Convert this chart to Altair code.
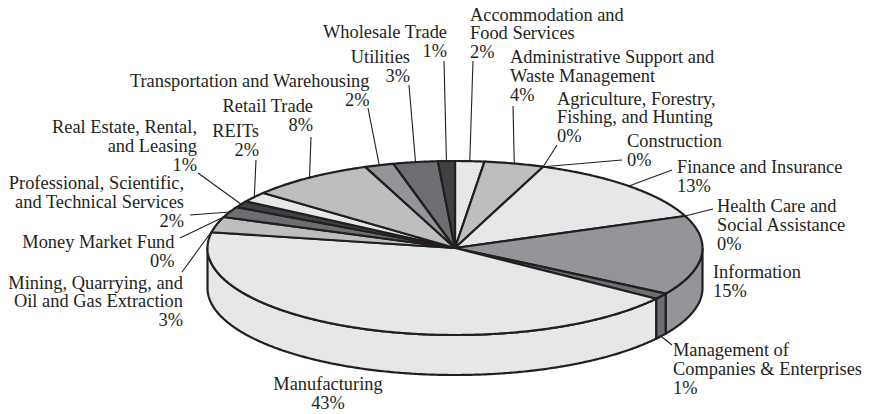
import math
import altair as alt
import pandas as pd

# ---- data ----
categories = ["Accommodation and Food Services", "Administrative Support and Waste Management",
              "Agriculture, Forestry, Fishing, and Hunting", "Construction", "Finance and Insurance",
              "Health Care and Social Assistance", "Information", "Management of Companies & Enterprises",
              "Manufacturing", "Mining, Quarrying, and Oil and Gas Extraction", "Money Market Fund",
              "Professional, Scientific, and Technical Services", "Real Estate, Rental, and Leasing",
              "REITs", "Retail Trade", "Transportation and Warehousing", "Utilities", "Wholesale Trade"]
shares = [1.9, 3.9, 0, 0, 13.2, 0, 14.8, 1.1, 43.0, 2.9, 0, 2.0, 1.2, 1.9, 8.2, 1.9, 2.9, 1.1]
percent_labels = ["2%", "4%", "0%", "0%", "13%", "0%", "15%", "1%", "43%", "3%", "0%", "2%", "1%", "2%", "8%", "2%", "3%", "1%"]

# ---- styles ----
L, M1, M2, D1, D2 = "#e6e7e8", "#bcbec0", "#939598", "#6d6e71", "#414042"
slice_colors = [L, M1, L, M1, L, M2, M2, D1, L, M1, M2, D1, D2, L, M1, M2, D1, D2]
INK = "#231f20"

# ---- layout: ellipse in page pixels ----
CX, CY, RX, RY, DEPTH = 455.0, 248.0, 247.5, 87.0, 40.0
FONT, FS, LH = "Liberation Serif", 18.4, 18.8

# index -> (label lines, align, x, first baseline, leader outer end or None, attach to bottom rim)
layout = {
    0: (["Accommodation and", "Food Services"], "left", 470, 20.5, (473, 61), False),
    1: (["Administrative Support and", "Waste Management"], "left", 510, 63, (513, 106), False),
    2: (["Agriculture, Forestry,", "Fishing, and Hunting"], "left", 557, 104.5, (557, 145), False),
    3: (["Construction"], "left", 627, 147, (622, 160), False),
    4: (["Finance and Insurance"], "left", 677, 173, (672, 170), False),
    5: (["Health Care and", "Social Assistance"], "left", 717, 212, (713, 209), False),
    6: (["Information"], "left", 713, 278, None, False),
    7: (["Management of", "Companies & Enterprises"], "left", 673, 356, (672, 345), True),
    8: (["Manufacturing"], "center", 328, 390, None, False),
    9: (["Mining, Quarrying, and", "Oil and Gas Extraction"], "right", 183, 288.5, (182, 272), False),
    10: (["Money Market Fund"], "right", 174.5, 248, (180, 238), False),
    11: (["Professional, Scientific,", "and Technical Services"], "right", 184, 189, (190, 215), False),
    12: (["Real Estate, Rental,", "and Leasing"], "right", 197, 133, (198, 173), False),
    13: (["REITs"], "right", 259, 137, (256, 160), False),
    14: (["Retail Trade"], "right", 313, 112, (311, 137), False),
    15: (["Transportation and Warehousing"], "right", 369.5, 87, (368, 108), False),
    16: (["Utilities"], "right", 410, 63, (409, 85), False),
    17: (["Wholesale Trade"], "right", 447, 38, (444, 61), False),
}


def rim(t, dz=0.0):
    a = math.radians(t)
    return CX + RX * math.sin(a), CY - RY * math.cos(a) + dz


top_rows, side_rows, leader_rows, text_rows = [], [], [], []
cum = 0.0
for i, (cat, v) in enumerate(zip(categories, shares)):
    t0, t1 = cum * 3.6, (cum + v) * 3.6
    mid = (t0 + t1) / 2
    cum += v
    if v > 0:
        pts = [(CX, CY)]
        n = max(2, int((t1 - t0) * 2))
        pts += [rim(t0 + (t1 - t0) * k / n) for k in range(n + 1)]
        pts.append((CX, CY))
        for o, (x, y) in enumerate(pts):
            top_rows.append(dict(s=i, o=o, x=x, y=y, c=slice_colors[i]))
        a, b = max(t0, 90.0), min(t1, 270.0)
        if b > a:
            n = max(2, int((b - a) * 2))
            arc = [a + (b - a) * k / n for k in range(n + 1)]
            pts = [rim(t) for t in arc] + [rim(t, DEPTH) for t in reversed(arc)]
            pts.append(pts[0])
            for o, (x, y) in enumerate(pts):
                side_rows.append(dict(s=i, o=o, x=x, y=y, c=slice_colors[i]))
    lines, align, lx, ly, outer, bottom = layout[i]
    for k, line in enumerate(lines + [percent_labels[i]]):
        text_rows.append(dict(t=line, x=lx, y=ly + k * LH, a=align))
    if outer:
        ix, iy = rim(mid, DEPTH if bottom else 0.0)
        leader_rows.append(dict(x=ix, y=iy, x2=outer[0], y2=outer[1]))

X = alt.X("x:Q", scale=alt.Scale(domain=[8, 865], nice=False, zero=False), axis=None)
Y = alt.Y("y:Q", scale=alt.Scale(domain=[414, 8], nice=False, zero=False), axis=None)


def polys(rows):
    return alt.Chart(pd.DataFrame(rows)).mark_line(
        stroke=INK, strokeWidth=2.2, strokeJoin="round", interpolate="linear", clip=False
    ).encode(x=X, y=Y, order="o:Q", detail="s:N", fill=alt.Fill("c:N", scale=None, legend=None))


leaders = alt.Chart(pd.DataFrame(leader_rows)).mark_rule(color=INK, strokeWidth=1.1).encode(
    x=X, y=Y, x2="x2:Q", y2="y2:Q")

texts = []
for al in ["left", "right", "center"]:
    df = pd.DataFrame([r for r in text_rows if r["a"] == al])
    texts.append(alt.Chart(df).mark_text(font=FONT, fontSize=FS, color=INK, align=al, baseline="alphabetic").encode(
        x=X, y=Y, text="t:N"))

chart = alt.layer(polys(side_rows), polys(top_rows), leaders, *texts).properties(
    width=857, height=406, padding=0, autosize=alt.AutoSizeParams(type="none"), background="#ffffff"
).configure_view(stroke=None)

chart.save("out.html", embed_options={"renderer": "svg", "actions": False})
